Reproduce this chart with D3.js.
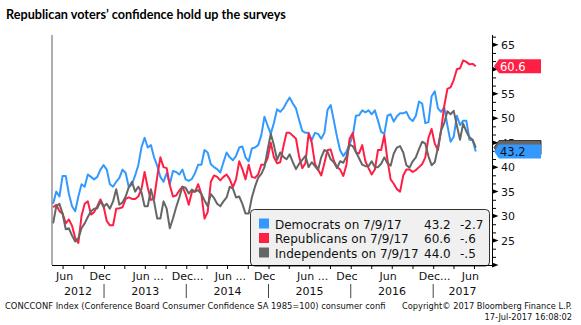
<!DOCTYPE html>
<html>
<head>
<meta charset="utf-8">
<script src="https://cdn.jsdelivr.net/npm/d3@7"></script>
<style>
  body { margin: 0; background: #fff; }
  svg { display: block; }
</style>
</head>
<body>
<div id="chart"></div>
<script>
'use strict';

// weekly survey readings, sampled every 2 weeks from 2012-05-20 to 2017-07-09
const startDate = "2012-05-20";
const stepDays = 14;

const demValues = [
  32.5, 35.0, 34.0, 38.2, 38.2, 34.5, 32.0, 31.0, 34.0, 36.5,
  36.0, 38.5, 38.0, 37.5, 38.0, 39.5, 40.4, 39.5, 36.5, 36.0,
  37.0, 37.8, 39.5, 38.8, 35.9, 36.5, 38.3, 40.4, 44.0, 46.0,
  44.0, 44.5, 42.0, 40.3, 38.0, 37.0, 38.8, 36.5, 39.2, 39.0,
  38.5, 39.5, 37.5, 37.2, 37.6, 38.8, 40.5, 40.5, 43.5, 43.0,
  40.6, 40.0, 39.6, 38.9, 41.0, 43.0, 42.0, 41.4, 42.3, 44.0,
  44.2, 42.0, 41.2, 43.8, 44.0, 44.5, 46.5, 50.3, 48.5, 46.8,
  49.0, 51.8, 51.3, 52.0, 53.2, 54.2, 53.0, 52.0, 49.6, 47.4,
  47.0, 47.0, 45.5, 47.0, 46.8, 45.8, 47.0, 51.7, 52.7, 49.5,
  46.2, 43.4, 42.3, 43.2, 44.7, 46.4, 50.5, 50.6, 51.6, 51.2,
  51.6, 50.8, 51.6, 49.5, 47.2, 46.8, 50.5, 50.8, 49.3, 50.4,
  51.0, 51.0, 51.3, 50.0, 49.4, 50.5, 53.4, 53.0, 49.0, 49.2,
  54.5, 55.5, 52.0, 51.3, 52.2, 48.5, 45.2, 46.2, 50.5, 48.6,
  49.5, 49.5, 45.6, 45.5, 43.2
];

const repValues = [
  31.8, 32.3, 31.0, 30.5, 28.5, 29.3, 28.0, 25.5, 24.5, 30.0,
  32.5, 33.0, 30.3, 30.8, 32.0, 33.4, 32.0, 29.0, 28.1, 28.1,
  31.5, 31.6, 31.8, 33.5, 33.8, 33.5, 33.5, 34.0, 35.5, 39.0,
  35.8, 33.3, 33.5, 38.0, 42.0, 40.0, 39.8, 36.3, 34.0, 34.2,
  35.2, 36.0, 34.5, 32.3, 34.9, 35.0, 36.5, 34.5, 29.5, 30.8,
  37.0, 38.3, 38.0, 37.3, 38.0, 38.5, 37.5, 35.9, 37.5, 41.2,
  39.6, 37.5, 40.5, 38.0, 37.8, 38.5, 40.5, 40.5, 41.8, 45.0,
  42.0, 40.8, 41.0, 44.2, 47.0, 47.0, 46.4, 45.8, 42.1, 39.8,
  40.8, 46.9, 45.0, 40.7, 39.5, 38.3, 40.8, 43.5, 43.6, 41.3,
  40.0, 39.5, 38.2, 40.5, 45.8, 47.0, 43.0, 42.8, 44.5, 41.2,
  39.8, 38.5, 39.5, 43.5, 43.5, 46.5, 41.5, 37.5, 36.6, 35.5,
  35.0, 38.3, 39.5, 39.5, 39.0, 39.4, 40.0, 40.6, 42.0, 46.0,
  47.8, 44.8, 43.5, 47.5, 52.5, 56.0, 56.3, 57.8, 60.0, 60.2,
  61.8, 61.5, 61.0, 61.1, 60.6
];

const indValues = [
  28.5, 32.0, 32.5, 30.5, 27.3, 27.5, 26.0, 24.8, 25.5, 27.5,
  28.5, 29.8, 31.0, 31.5, 31.6, 33.0, 31.9, 32.5, 31.5, 33.0,
  35.5, 32.3, 32.8, 34.0, 35.9, 37.0, 35.0, 36.0, 34.9, 32.0,
  32.0, 35.5, 33.0, 29.5, 29.5, 33.0, 31.5, 27.5, 29.5, 31.8,
  33.8, 36.0, 35.8, 34.6, 35.4, 35.0, 35.3, 34.5, 33.2, 32.0,
  34.5, 33.7, 32.5, 32.0, 33.0, 33.8, 36.0, 35.6, 33.8, 34.0,
  32.5, 30.5, 30.5, 33.8, 36.0, 37.8, 38.6, 40.0, 43.5, 46.8,
  44.5, 41.5, 43.0, 42.1, 41.6, 42.6, 41.0, 39.6, 40.7, 41.5,
  42.3, 40.0, 41.0, 40.2, 39.4, 42.0, 43.5, 43.1, 41.6, 41.0,
  39.8, 41.2, 40.9, 42.2, 44.6, 44.3, 43.1, 41.8, 40.5, 40.2,
  40.2, 41.2, 40.0, 40.0, 40.7, 42.0, 40.8, 40.3, 42.8, 44.0,
  44.3, 43.0, 40.4, 39.9, 41.2, 42.0, 43.7, 45.2, 44.8, 42.2,
  40.4, 41.0, 44.0, 47.5, 49.0, 51.4, 50.8, 51.5, 48.5, 45.6,
  48.9, 47.3, 46.1, 45.6, 44.0
];

const seriesNames = ["Democrats", "Republicans", "Independents"];
const lastDate = "7/9/17";
const lastChanges = ["-2.7", "-.6", "-.5"];

const yTicks = [25, 30, 35, 40, 45, 50, 55, 60, 65];
const monthLabels = [
  ["2012-06-15", "Jun"], ["2012-12-15", "Dec"],
  ["2013-06-15", "Jun ..."], ["2013-12-15", "Dec..."],
  ["2014-06-15", "Jun ..."], ["2014-12-15", "Dec"],
  ["2015-06-15", "Jun ..."], ["2015-12-15", "Dec"],
  ["2016-06-15", "Jun"], ["2016-12-15", "Dec..."],
  ["2017-06-15", "Jun"]
];
const years = [2012, 2013, 2014, 2015, 2016, 2017];

const titleText = "Republican voters\u2019 confidence hold up the surveys";
const footLeft = "CONCCONF Index (Conference Board Consumer Confidence SA 1985=100) consumer confi";
const footRight = "Copyright\u00a9 2017 Bloomberg Finance L.P.";
const footDate = "17-Jul-2017 16:08:02";

// ---- layout ----
const W = 581, H = 325;
const pL = 52, pR = 492, pT = 35, pB = 265;
const colors = ["#3399ff", "#ff1f45", "#666666"];
const textColors = ["#111", "#fff", "#fff"];
const parseDate = d3.timeParse("%Y-%m-%d");

const svg = d3.select("#chart").append("svg")
  .attr("width", W).attr("height", H)
  .style("font-family", "'DejaVu Sans', sans-serif");

const x = d3.scaleTime()
  .domain([new Date(2012, 4, 15), new Date(2017, 8, 19)])
  .range([pL, pR]);
const y = d3.scaleLinear().domain([20, 67]).range([pB, pT]);

function fitWidth(sel, target) {
  const fs = +sel.attr("font-size");
  const len = sel.node().getComputedTextLength();
  sel.attr("font-size", (fs * target / len).toFixed(2));
}

// title
const title = svg.append("text")
  .attr("x", 6).attr("y", 19)
  .attr("font-family", "Lato, 'Open Sans', sans-serif")
  .attr("font-weight", "bold")
  .attr("font-size", 13)
  .attr("fill", "#000")
  .text(titleText);
fitWidth(title, 280);

// series
const start = parseDate(startDate);
const allSeries = [demValues, repValues, indValues].map((vals, k) => ({
  name: seriesNames[k],
  color: colors[k],
  values: vals.map((v, i) => ({ date: d3.timeDay.offset(start, stepDays * i), v: v }))
}));

svg.append("clipPath").attr("id", "plotclip")
  .append("rect").attr("x", pL).attr("y", pT)
  .attr("width", pR - pL).attr("height", pB - pT);

const line = d3.line().x(d => x(d.date)).y(d => y(d.v));

svg.append("g").attr("clip-path", "url(#plotclip)")
  .selectAll("path")
  .data(allSeries)
  .join("path")
  .attr("d", d => line(d.values))
  .attr("fill", "none")
  .attr("stroke", d => d.color)
  .attr("stroke-width", 2)
  .attr("stroke-linejoin", "round");

// left frame line
svg.append("line")
  .attr("x1", pL).attr("x2", pL).attr("y1", pT).attr("y2", pB)
  .attr("stroke", "#777").attr("stroke-width", 1.2);

// legend
const lg = svg.append("g");
lg.append("rect")
  .attr("x", 250.5).attr("y", 209.5).attr("width", 239).attr("height", 56.5)
  .attr("rx", 4).attr("fill", "#f0f0f0").attr("stroke", "#333");
allSeries.forEach((s, i) => {
  const vals = s.values;
  const ry = 218.5 + 14.5 * i;
  lg.append("rect").attr("x", 259).attr("y", ry).attr("width", 10).attr("height", 10)
    .attr("fill", s.color);
  lg.append("text").attr("x", 275).attr("y", ry + 10).attr("font-size", 12).attr("fill", "#111")
    .text(s.name + " on " + lastDate);
  lg.append("text").attr("x", 424).attr("y", ry + 10).attr("font-size", 12).attr("fill", "#111")
    .text(d3.format(".1f")(vals[vals.length - 1].v));
  lg.append("text").attr("x", 460).attr("y", ry + 10).attr("font-size", 12).attr("fill", "#111")
    .text(lastChanges[i]);
});

// bottom axis: quarterly ticks
const qTicks = d3.timeMonth.every(3).range(new Date(2012, 6, 1), new Date(2017, 8, 19));
svg.append("g")
  .attr("transform", `translate(0,${pB})`)
  .call(d3.axisBottom(x).tickValues(qTicks).tickSize(4).tickFormat(""))
  .call(g => g.select(".domain").attr("d", `M${pL},0.5H${pR}`).attr("stroke", "#000"))
  .call(g => g.selectAll(".tick line").attr("stroke", "#000"));

// month labels
const mg = svg.append("g").attr("font-size", 11).attr("fill", "#111");
monthLabels.forEach(([d, lab]) => {
  const tmp = mg.append("text").text(lab.slice(0, 3));
  const w = tmp.node().getComputedTextLength();
  tmp.remove();
  const cx = Math.max(x(parseDate(d)), pL + 4 + w / 2);
  mg.append("text").attr("x", cx - w / 2).attr("y", 280).text(lab);
});

// year labels and separators
years.forEach(yr => {
  const x0 = Math.max(x(new Date(yr, 0, 1)), pL);
  const x1 = Math.min(x(new Date(yr + 1, 0, 1)), pR);
  mg.append("text").attr("x", (x0 + x1) / 2).attr("y", 295)
    .attr("text-anchor", "middle").text(yr);
  if (yr > years[0]) {
    svg.append("line").attr("x1", x0).attr("x2", x0).attr("y1", 284).attr("y2", 298)
      .attr("stroke", "#444");
  }
});

// right axis
const minorTicks = d3.range(20, 67.01, 5 / 3).filter(v => Math.abs(v / 5 - Math.round(v / 5)) > 0.01);
svg.append("g")
  .attr("transform", `translate(${pR},0)`)
  .call(d3.axisRight(y).tickValues(minorTicks).tickSize(4).tickFormat(""))
  .call(g => g.select(".domain").attr("d", `M0.5,${pT}V${pB}`).attr("stroke", "#000"))
  .call(g => g.selectAll(".tick line").attr("stroke", "#000"));

const ra = svg.append("g").attr("transform", `translate(${pR},0)`);
ra.selectAll("path.arrow")
  .data([20].concat(yTicks))
  .join("path")
  .attr("class", "arrow")
  .attr("d", v => `M0,${y(v) - 2.5}L6.5,${y(v)}L0,${y(v) + 2.5}Z`)
  .attr("fill", "#000");
ra.selectAll("text")
  .data(yTicks)
  .join("text")
  .attr("x", 9).attr("y", v => y(v) + 4)
  .attr("font-size", 11).attr("fill", "#111")
  .text(v => v);

// last-value tags on the axis; the independents tag sits under the democrats one
[2, 1, 0].forEach(k => {
  const vals = allSeries[k].values;
  const v = vals[vals.length - 1].v;
  const cy = y(v);
  const tg = svg.append("g");
  tg.append("path")
    .attr("d", `M${pR + 2},${cy}L${pR + 7},${cy - 7}H${W - 40}V${cy + 7}H${pR + 7}Z`)
    .attr("fill", colors[k]).attr("stroke", k === 2 ? "#333" : "none");
  if (k !== 2) {
    tg.append("text").attr("x", pR + 8).attr("y", cy + 4.5)
      .attr("font-size", 11.5).attr("fill", textColors[k])
      .text(d3.format(".1f")(v));
  }
});

// footer
const f1 = svg.append("text").attr("x", 5).attr("y", 309).attr("font-size", 8.5)
  .attr("fill", "#111").text(footLeft);
fitWidth(f1, 381);
const f2 = svg.append("text").attr("x", 572).attr("y", 309).attr("font-size", 8.5)
  .attr("text-anchor", "end").attr("fill", "#111").text(footRight);
fitWidth(f2, 170);
svg.append("text").attr("x", 572).attr("y", 320).attr("font-size", f2.attr("font-size"))
  .attr("text-anchor", "end").attr("fill", "#111").text(footDate);
</script>
</body>
</html>
